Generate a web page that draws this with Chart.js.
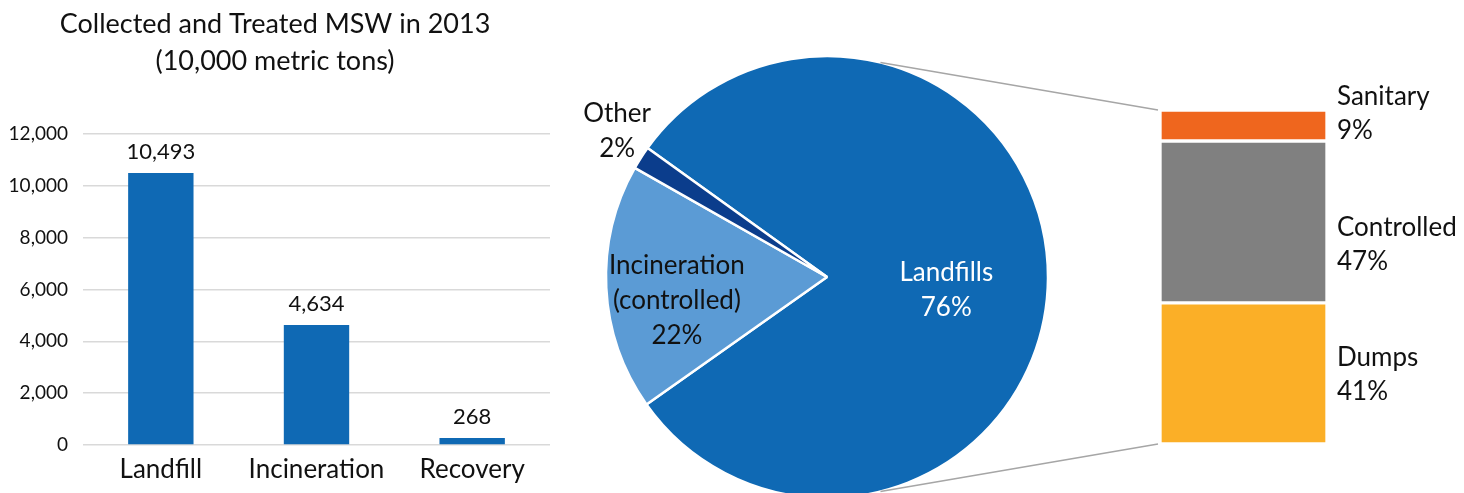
<!DOCTYPE html>
<html lang="en">
<head>
  <meta charset="UTF-8">
  <title>Collected and Treated MSW in 2013</title>
  <script src="https://cdn.jsdelivr.net/npm/chart.js"></script>
  <style>
    html, body { margin: 0; padding: 0; width: 1464px; height: 493px; overflow: hidden; background: white; }
    canvas { position: absolute; top: 0; }
    #barChart { left: 0; }
    #pieChart { left: 560px; }
    #splitChart { left: 860px; }
  </style>
</head>
<body>
  <canvas id="barChart" width="552" height="493"></canvas>
  <canvas id="pieChart" width="534" height="554"></canvas>
  <canvas id="splitChart" width="604" height="493"></canvas>

  <script>
    // left: collected and treated MSW, 10,000 metric tons
    const barCategories = ['Landfill', 'Incineration', 'Recovery'];
    const barValues = [10493, 4634, 268];
    const barTicks = [0, 2000, 4000, 6000, 8000, 10000, 12000];

    // middle: treatment shares (slice sizes as drawn, labels as printed)
    const pieCategories = ['Landfills', 'Incineration (controlled)', 'Other'];
    const pieValues = [80.3, 18.0, 1.7];
    const pieLabels = [['Landfills', '76%'], ['Incineration', '(controlled)', '22%'], ['Other', '2%']];

    // right: landfill breakdown
    const splitCategories = ['Dumps', 'Controlled', 'Sanitary'];
    const splitValues = [41, 47, 9];
    const splitLabels = ['41%', '47%', '9%'];

    const FONT = 'Lato, "Open Sans", sans-serif';
    const TEXT = '#111';
    Chart.defaults.font.family = FONT;
    Chart.defaults.color = TEXT;
    Chart.defaults.animation = false;
    Chart.defaults.responsive = false;
    Chart.defaults.plugins.legend.display = false;
    Chart.defaults.plugins.tooltip.enabled = false;

    const valueLabels = {
      id: 'valueLabels',
      afterDatasetsDraw(chart) {
        const ctx = chart.ctx;
        const meta = chart.getDatasetMeta(0);
        ctx.save();
        ctx.font = '22px ' + FONT;
        ctx.fillStyle = TEXT;
        ctx.textAlign = 'center';
        ctx.textBaseline = 'middle';
        meta.data.forEach((bar, i) => {
          ctx.fillText(barValues[i].toLocaleString('en-US'), bar.x, bar.y - 21);
        });
        ctx.restore();
      }
    };

    new Chart(document.getElementById('barChart'), {
      type: 'bar',
      data: {
        labels: barCategories,
        datasets: [{
          data: barValues,
          backgroundColor: '#0F69B4',
          barPercentage: 0.42,
          categoryPercentage: 1
        }]
      },
      options: {
        layout: { padding: { left: 0, right: 2, top: 0, bottom: 0 } },
        scales: {
          y: {
            min: 0,
            max: 12000,
            afterFit: s => { s.width = 83; },
            afterBuildTicks: s => { s.ticks = barTicks.map(v => ({ value: v })); },
            grid: { color: '#D9D9D9', lineWidth: 1.5, drawTicks: false },
            border: { display: false },
            ticks: { padding: 15, font: { size: 19 }, color: TEXT,
                     callback: v => v.toLocaleString('en-US') }
          },
          x: {
            afterFit: s => { s.height = 48; },
            grid: { display: false },
            border: { display: false },
            ticks: { padding: 1, font: { size: 26 }, color: TEXT }
          }
        },
        plugins: {
          title: {
            display: true,
            text: ['Collected and Treated MSW in 2013', '(10,000 metric tons)'],
            font: { size: 27, weight: 'normal', lineHeight: 1.37 },
            color: TEXT,
            padding: { top: 6, bottom: 54 }
          }
        }
      },
      plugins: [valueLabels]
    });

    // label offsets per slice: fraction of radius, then nudge
    const pieLabelPos = [
      { f: 0.49, dx: 11, dy: 13, color: 'white' },
      { f: 0.68, dx: 0, dy: 16, color: TEXT },
      { f: 1.16, dx: 6, dy: -8, color: TEXT }
    ];

    const pieText = {
      id: 'pieText',
      afterDatasetsDraw(chart) {
        const ctx = chart.ctx;
        const meta = chart.getDatasetMeta(0);
        ctx.save();
        ctx.font = '26px ' + FONT;
        ctx.textAlign = 'center';
        ctx.textBaseline = 'middle';
        meta.data.forEach((arc, i) => {
          const mid = (arc.startAngle + arc.endAngle) / 2;
          const p = pieLabelPos[i];
          const x = arc.x + Math.cos(mid) * arc.outerRadius * p.f + p.dx;
          const y = arc.y + Math.sin(mid) * arc.outerRadius * p.f + p.dy;
          const lines = pieLabels[i];
          const lh = 35;
          ctx.fillStyle = p.color;
          lines.forEach((t, j) => {
            ctx.fillText(t, x, y + (j - (lines.length - 1) / 2) * lh);
          });
        });
        ctx.restore();
      }
    };

    const pie = new Chart(document.getElementById('pieChart'), {
      type: 'pie',
      data: {
        labels: pieCategories,
        datasets: [{
          data: pieValues,
          backgroundColor: ['#0F69B4', '#5B9BD5', '#0B3D8C'],
          borderColor: 'white',
          borderWidth: 2.5
        }]
      },
      options: {
        rotation: 305.7,
        radius: 221,
        layout: { padding: 0 }
      },
      plugins: [pieText]
    });

    // connector lines from the pie to the stacked bar, plus segment labels
    const splitDecor = {
      id: 'splitDecor',
      beforeDatasetsDraw(chart) {
        const ctx = chart.ctx;
        const arc = pie.getDatasetMeta(0).data[0];
        const offX = 560 - 860;
        const cx = arc.x + offX, cy = arc.y;
        const r = arc.outerRadius;
        const top = chart.getDatasetMeta(2).data[0];
        const bottom = chart.getDatasetMeta(0).data[0];
        const a = 76 * Math.PI / 180;
        ctx.save();
        ctx.strokeStyle = '#A6A6A6';
        ctx.lineWidth = 1.5;
        ctx.beginPath();
        ctx.moveTo(cx + r * Math.cos(-a), cy + r * Math.sin(-a));
        ctx.lineTo(top.x - top.width / 2 - 2, top.y);
        ctx.moveTo(cx + r * Math.cos(a), cy + r * Math.sin(a));
        ctx.lineTo(bottom.x - bottom.width / 2 - 2, bottom.base);
        ctx.stroke();
        ctx.restore();
      },
      afterDatasetsDraw(chart) {
        const ctx = chart.ctx;
        const nudge = [1, 23, -12];
        ctx.save();
        ctx.font = '26px ' + FONT;
        ctx.fillStyle = TEXT;
        ctx.textAlign = 'left';
        ctx.textBaseline = 'middle';
        splitCategories.forEach((name, i) => {
          const bar = chart.getDatasetMeta(i).data[0];
          const x = bar.x + bar.width / 2 + 10;
          const y = (bar.y + bar.base) / 2 + nudge[i];
          ctx.fillText(name, x, y - 17);
          ctx.fillText(splitLabels[i], x, y + 17);
        });
        ctx.restore();
      }
    };

    const splitColors = ['#FBAF27', '#808080', '#EF661E'];
    new Chart(document.getElementById('splitChart'), {
      type: 'bar',
      data: {
        labels: ['Landfills'],
        datasets: splitCategories.map((name, i) => ({
          label: name,
          data: [splitValues[i]],
          backgroundColor: splitColors[i],
          borderColor: 'white',
          borderWidth: 2,
          borderSkipped: false,
          barPercentage: 1,
          categoryPercentage: 1
        }))
      },
      options: {
        layout: { padding: { left: 300, right: 137, top: 110, bottom: 49 } },
        scales: {
          x: { display: false, stacked: true },
          y: { display: false, stacked: true, min: 0, max: 97 }
        }
      },
      plugins: [splitDecor]
    });
  </script>
</body>
</html>
